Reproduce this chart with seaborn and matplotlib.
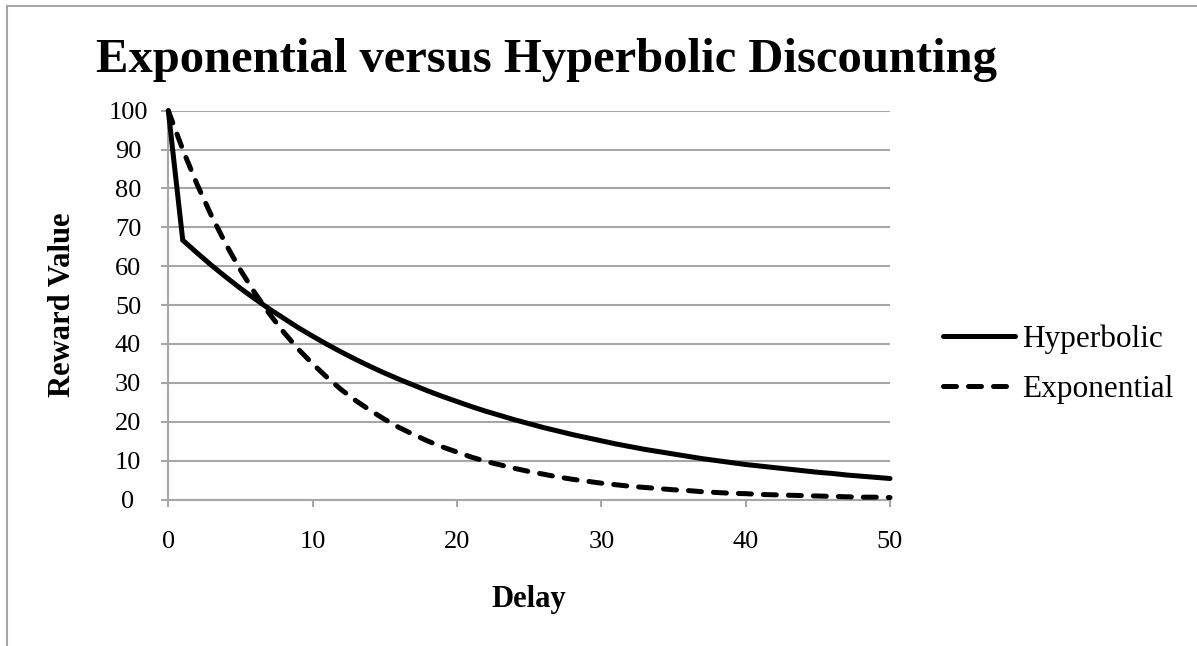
import matplotlib
matplotlib.use("Agg")
import matplotlib.pyplot as plt
import seaborn as sns
import pandas as pd
from matplotlib.lines import Line2D

# ---------------- data ----------------
delay = list(range(0, 51))
hyperbolic = [100.0,
              66.7, 63.4, 60.2, 57.2, 54.3, 51.6, 49.0, 46.6, 44.2, 42.0,
              39.9, 37.9, 36.0, 34.2, 32.5, 30.9, 29.4, 27.9, 26.5, 25.2,
              23.9, 22.7, 21.6, 20.5, 19.5, 18.5, 17.6, 16.7, 15.9, 15.1,
              14.3, 13.6, 12.9, 12.3, 11.7, 11.1, 10.5, 10.0, 9.5, 9.0,
              8.6, 8.2, 7.8, 7.4, 7.0, 6.7, 6.3, 6.0, 5.7, 5.4]
exponential = [100.0,
               90.0, 81.0, 72.9, 65.6, 59.0, 53.1, 47.8, 43.0, 38.7, 34.9,
               31.4, 28.2, 25.4, 22.9, 20.6, 18.5, 16.7, 15.0, 13.5, 12.2,
               10.9, 9.8, 8.9, 8.0, 7.2, 6.5, 5.8, 5.2, 4.7, 4.2,
               3.8, 3.4, 3.1, 2.8, 2.5, 2.3, 2.0, 1.8, 1.6, 1.5,
               1.3, 1.2, 1.1, 1.0, 0.9, 0.8, 0.7, 0.6, 0.6, 0.5]
series_names = ["Hyperbolic", "Exponential"]
x_ticks = [0, 10, 20, 30, 40, 50]
y_ticks = [0, 10, 20, 30, 40, 50, 60, 70, 80, 90, 100]
title = "Exponential versus Hyperbolic Discounting"
x_label = "Delay"
y_label = "Reward Value"

# ---------------- style ----------------
sns.set_theme(style="white")
plt.rcParams["font.family"] = ["Liberation Serif", "DejaVu Serif"]
plt.rcParams["text.color"] = "black"
plt.rcParams["axes.labelcolor"] = "black"
plt.rcParams["xtick.color"] = "black"
plt.rcParams["ytick.color"] = "black"
plt.rcParams["lines.dash_capstyle"] = "round"
plt.rcParams["lines.solid_joinstyle"] = "miter"

GRAY = "#a6a6a6"
W, H = 1197, 646

df = pd.DataFrame({
    "Delay": delay + delay,
    "Reward Value": hyperbolic + exponential,
    "Series": [series_names[0]] * len(delay) + [series_names[1]] * len(delay),
})

fig = plt.figure(figsize=(W / 100, H / 100), dpi=100)
ax = fig.add_axes([168.3 / W, 1 - 499.5 / H, 721.7 / W, 388.8 / H])

sns.lineplot(data=df, x="Delay", y="Reward Value", hue="Series", style="Series",
             palette={series_names[0]: "black", series_names[1]: "black"},
             dashes={series_names[0]: "", series_names[1]: (2.6, 2.4)},
             linewidth=3.6, estimator=None, sort=False, legend=False, ax=ax)
for ln in ax.lines:
    ln.set_clip_on(False)
    ln.set_zorder(3)

ax.set_xlim(0, 50)
ax.set_ylim(0, 100)
ax.set_xticks(x_ticks)
ax.set_yticks(y_ticks)
ax.set_axisbelow(True)
ax.yaxis.grid(True, color=GRAY, linewidth=1.5)
ax.xaxis.grid(False)
for side in ["top", "right"]:
    ax.spines[side].set_visible(False)
for side in ["left", "bottom"]:
    ax.spines[side].set_color(GRAY)
    ax.spines[side].set_linewidth(1.5)

ax.tick_params(axis="both", direction="out", length=5, width=1.5, color=GRAY,
               labelsize=19, labelcolor="black", bottom=True, left=True)
ax.tick_params(axis="y", pad=24)
ax.tick_params(axis="x", pad=18)
for lbl in ax.get_yticklabels():
    lbl.set_horizontalalignment("center")

ax.set_xlabel(x_label, fontsize=22, fontweight="bold", color="black")
ax.set_ylabel(y_label, fontsize=22, fontweight="bold", color="black")
ax.xaxis.set_label_coords(0.5, -(600 - 499.5) / 388.8)
ax.xaxis.label.set_verticalalignment("center")
ax.yaxis.set_label_coords((63 - 168.3) / 721.7, 0.5)
ax.yaxis.label.set_verticalalignment("center")

fig.text(546 / W, 1 - 60 / H, title, ha="center", va="center",
         fontsize=35, fontweight="bold", color="black")

leg = fig.legend(handles=[ax.lines[0], ax.lines[1]], labels=series_names,
                 loc="center left", bbox_to_anchor=(943 / W, 1 - 364 / H),
                 frameon=False, fontsize=22.5, handlelength=2.3, handletextpad=0.22,
                 labelspacing=0.68, borderpad=0, borderaxespad=0)
for t in leg.get_texts():
    t.set_color("black")

# outer chart border (top and left visible)
fig.add_artist(Line2D([7 / W, 1], [1 - 6 / H, 1 - 6 / H], transform=fig.transFigure,
                      color=GRAY, linewidth=1.5))
fig.add_artist(Line2D([7 / W, 7 / W], [0, 1 - 6 / H], transform=fig.transFigure,
                      color=GRAY, linewidth=1.5))

fig.savefig("out.png", dpi=100, facecolor="white")
